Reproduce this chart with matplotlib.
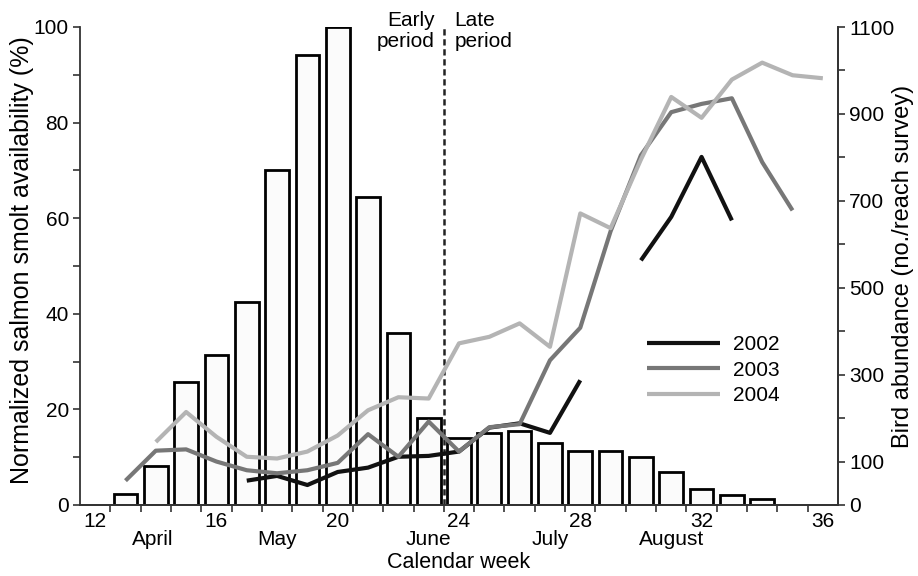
import numpy as np
import matplotlib
matplotlib.use('Agg')
import matplotlib.pyplot as plt

plt.rcParams['font.family'] = ['Liberation Sans', 'DejaVu Sans']

# smolt availability (% of peak), by calendar week
weeks = np.arange(13, 35)
smolt = [2.3, 8.2, 25.7, 31.4, 42.4, 70.1, 94.1, 100, 64.5, 35.9, 18.3,
         14.1, 15.0, 15.5, 13.0, 11.3, 11.3, 10.0, 6.8, 3.3, 2.0, 1.2]

# bird abundance (no./reach survey)
weeks_2002 = np.arange(17, 34)
birds_2002 = [56, 67, 46, 76, 86, 111, 113, 123, 178, 188, 166, 287,
              np.nan, 563, 663, 801, 655]
weeks_2003 = np.arange(13, 36)
birds_2003 = [56, 125, 128, 100, 80, 73, 80, 97, 163, 111, 192, 123,
              179, 186, 333, 408, 630, 805, 904, 923, 936, 789, 678]
weeks_2004 = np.arange(14, 37)
birds_2004 = [145, 214, 157, 111, 107, 123, 160, 218, 248, 245, 372,
              387, 418, 364, 671, 637, 795, 939, 891, 979, 1018, 989, 982]

month_names = ['April', 'May', 'June', 'July', 'August']
month_pos = [13.9, 18.0, 23.0, 27.0, 31.0]

fs = 15

fig = plt.figure(figsize=(9.18, 5.76), dpi=100)
ax = fig.add_axes([80/918, 1-505/576, 758/918, 478/576])
ax2 = ax.twinx()

ax.bar(weeks, smolt, width=0.78, color='#fbfbfb', edgecolor='black', linewidth=2.0, zorder=2)
ax.axvline(23.5, color='#222222', lw=1.8, ls=(0, (2.5, 1.5)), zorder=3)

ax2.plot(weeks_2002, birds_2002, color='#111111', lw=3, solid_capstyle='butt', label='2002')
ax2.plot(weeks_2003, birds_2003, color='#777777', lw=3, solid_capstyle='butt', label='2003')
ax2.plot(weeks_2004, birds_2004, color='#b4b4b4', lw=3, solid_capstyle='butt', label='2004')

ax.set_xlim(11.5, 36.5)
ax.set_ylim(0, 100)
ax2.set_ylim(0, 1100)

for a in (ax, ax2):
    a.spines['top'].set_visible(False)
    for s in a.spines.values():
        s.set_linewidth(1.3)
        s.set_color('#333333')
ax2.spines['left'].set_visible(False)

# x ticks between bars, labels at weeks
ax.set_xticks(np.arange(12, 37, 4))
ax.set_xticks(np.arange(12.5, 36, 1), minor=True)
ax.tick_params(axis='x', which='major', length=0, pad=5, labelsize=fs)
ax.tick_params(axis='x', which='minor', length=5, width=1.2, direction='out', color='#333333')

ax.set_yticks(np.arange(0, 101, 20))
ax.set_yticks(np.arange(10, 100, 20), minor=True)
ax.tick_params(axis='y', which='both', length=5, width=1.2, direction='out', labelsize=fs,
               color='#333333', pad=3)

rticks = np.arange(0, 1101, 100)
ax2.set_yticks(rticks)
ax2.set_yticklabels([str(t) if (t == 0 or (t // 100) % 2 == 1) else '' for t in rticks])
ax2.tick_params(axis='y', length=5, width=1.2, direction='out', labelsize=fs, color='#333333', pad=3)

# axis titles
fig.text(22/918, 1-260/576, 'Normalized salmon smolt availability (%)', rotation=90,
         ha='center', va='center', fontsize=18)
fig.text(903/918, 1-266/576, 'Bird abundance (no./reach survey)', rotation=90,
         ha='center', va='center', fontsize=17)
ax.text(0.5, -0.12, 'Calendar week', transform=ax.transAxes, ha='center', va='center', fontsize=fs + 0.5)

trans = ax.get_xaxis_transform()
for name, pos in zip(month_names, month_pos):
    ax.text(pos, -0.073, name, transform=trans, ha='center', va='center', fontsize=fs)

ax.text(23.2, 103.3, 'Early\nperiod', ha='right', va='top', fontsize=fs, linespacing=1.1, clip_on=False)
ax.text(23.85, 103.3, 'Late\nperiod', ha='left', va='top', fontsize=fs, linespacing=1.1, clip_on=False)

ax2.legend(loc='center left', bbox_to_anchor=(0.748, 0.282), frameon=False, fontsize=fs,
           handlelength=3.5, handletextpad=0.62, labelspacing=0.3, borderpad=0, borderaxespad=0)

fig.savefig('out.png', dpi=100)
